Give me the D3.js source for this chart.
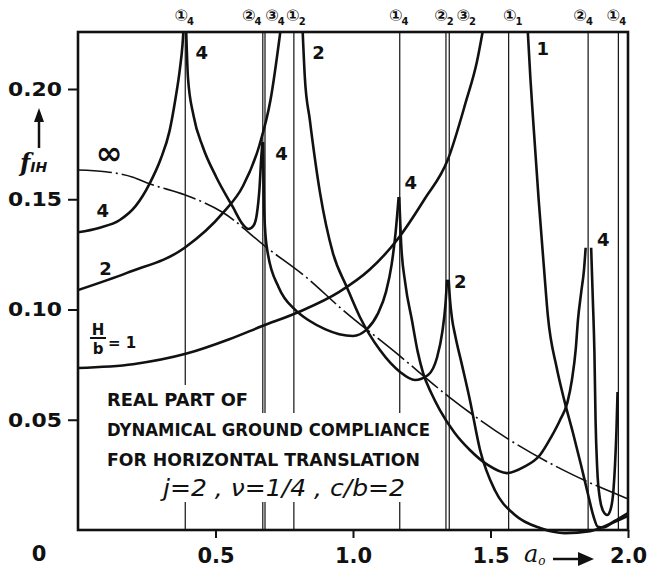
<!DOCTYPE html>
<html><head><meta charset="utf-8">
<script src="https://cdn.jsdelivr.net/npm/d3@7"></script>
<style>
body{margin:0;background:#fff;}
svg{display:block;}
text{fill:#111;}
</style></head>
<body>
<svg id="chart" width="651" height="574"></svg>
<script>
// ---------- DATA ----------
const xTicks = [0.5, 1.0, 1.5, 2.0];
const xTickLabels = ["0.5", "1.0", "1.5", "2.0"];
const yTicks = [0.05, 0.10, 0.15, 0.20];
const yTickLabels = ["0.05", "0.10", "0.15", "0.20"];

// resonance frequencies (vertical lines) and their top labels
const resonances = [0.39, 0.672, 0.680, 0.785, 1.17, 1.338, 1.35, 1.566, 1.855, 1.965];
const resonanceMain = ["①", "②", "③", "①", "①", "②", "③", "①", "②", "①"];
const resonanceSub  = ["4", "4", "4", "2", "4", "2", "2", "1", "4", "4"];

// H/b = infinity (half space), dash-dot
const curveInf = [[0,0.1633],[0.1,0.1625],[0.2,0.1600],[0.26,0.157],[0.388,0.152],[0.527,0.144],[0.687,0.128],[0.836,0.114],[0.952,0.101],[1.16,0.080],[1.35,0.0603],[1.57,0.0408],[1.80,0.025],[2.0,0.0141]];

// H/b = 1
const curve1a = [[0,0.0735],[0.2,0.0752],[0.395,0.080],[0.55,0.0865],[0.67,0.0925],[0.805,0.099],[0.95,0.108],[1.06,0.118],[1.16,0.1315],[1.26,0.150],[1.345,0.168],[1.41,0.194],[1.45,0.212],[1.48,0.232]];
const curve1b = [[1.633,0.232],[1.645,0.205],[1.655,0.186],[1.675,0.150],[1.695,0.118],[1.709,0.0966],[1.74,0.074],[1.77,0.058],[1.80,0.044],[1.83,0.029],[1.855,0.016],[1.875,0.006],[1.89,0.0015],[1.91,0.0012],[1.95,0.004],[2.0,0.0077]];

// H/b = 2
const curve2a = [[0,0.1088],[0.178,0.1166],[0.388,0.128],[0.527,0.1438],[0.6,0.156],[0.66,0.1746],[0.70,0.195],[0.742,0.232]];
const curve2b = [[0.815,0.232],[0.825,0.205],[0.843,0.186],[0.88,0.153],[0.927,0.1256],[0.978,0.110],[1.025,0.0966],[1.098,0.0816],[1.171,0.0717],[1.225,0.068],[1.273,0.0703],[1.305,0.078],[1.325,0.090],[1.336,0.102],[1.342,0.1135]];
const curve2c = [[1.348,0.1135],[1.353,0.104],[1.360,0.096],[1.372,0.088],[1.396,0.075],[1.425,0.059],[1.462,0.0363],[1.516,0.018],[1.589,0.0068],[1.68,0.0009],[1.771,-0.0014],[1.862,-0.0005],[1.934,0.0027],[2.0,0.0064]];

// H/b = 4
const curve4a = [[0,0.135],[0.076,0.137],[0.152,0.1406],[0.21,0.147],[0.26,0.157],[0.30,0.168],[0.333,0.181],[0.355,0.196],[0.37,0.2086],[0.38,0.220],[0.386,0.232]];
const curve4b = [[0.392,0.232],[0.40,0.205],[0.42,0.188],[0.454,0.1737],[0.503,0.160],[0.563,0.1465],[0.60,0.1385],[0.62,0.1365],[0.638,0.138],[0.65,0.143],[0.66,0.155],[0.667,0.170],[0.671,0.176]];
const curve4c = [[0.673,0.176],[0.676,0.150],[0.68,0.137],[0.69,0.1256],[0.73,0.110],[0.79,0.0998],[0.84,0.095],[0.9,0.091],[0.95,0.0888],[1.0,0.088],[1.05,0.091],[1.09,0.098],[1.12,0.108],[1.14,0.12],[1.155,0.135],[1.166,0.151]];
const curve4d = [[1.168,0.151],[1.175,0.13],[1.19,0.112],[1.2145,0.095],[1.235,0.081],[1.255,0.0712],[1.285,0.062],[1.316,0.0544],[1.37,0.044],[1.425,0.0363],[1.49,0.0295],[1.56,0.0258],[1.62,0.0285],[1.68,0.034],[1.72,0.042],[1.753,0.0499],[1.78,0.058],[1.796,0.068],[1.81,0.082],[1.818,0.0952],[1.83,0.108],[1.84,0.118],[1.846,0.128]];
const curve4e = [[1.866,0.128],[1.872,0.105],[1.878,0.08],[1.882,0.05],[1.888,0.028],[1.898,0.014],[1.91,0.0085],[1.924,0.0068],[1.937,0.0095],[1.947,0.018],[1.953,0.03],[1.958,0.045],[1.962,0.0626]];

// curve labels: [a, f, text]
const curveLabels = [
  [0.113, 0.170, "∞"], [0.09, 0.144, "4"], [0.10, 0.118, "2"],
  [0.45, 0.216, "4"], [0.74, 0.170, "4"], [0.875, 0.216, "2"],
  [1.21, 0.157, "4"], [1.39, 0.112, "2"], [1.69, 0.2177, "1"], [1.91, 0.131, "4"]
];

// ---------- DRAW ----------
const svg = d3.select("#chart");
const L = 78, R = 628, T = 32, B = 530;
const x = d3.scaleLinear().domain([0, 2]).range([L, R]);
const y = d3.scaleLinear().domain([0, (B - T) / 2205]).range([B, T]);

svg.append("defs").append("clipPath").attr("id", "clip")
  .append("rect").attr("x", L).attr("y", T).attr("width", R - L).attr("height", B - T + 8);

const font = "'DejaVu Sans', 'Noto Sans', sans-serif";

// vertical resonance lines (with gap behind the text block)
const gapTop = [385, 413, 413, 413, 413, null, null, null, null, null];
resonances.forEach((a, i) => {
  const px = x(a);
  if (gapTop[i] !== null) {
    svg.append("line").attr("x1", px).attr("x2", px).attr("y1", T).attr("y2", gapTop[i])
      .attr("stroke", "#111").attr("stroke-width", 1.2);
    svg.append("line").attr("x1", px).attr("x2", px).attr("y1", 502).attr("y2", B)
      .attr("stroke", "#111").attr("stroke-width", 1.2);
  } else {
    svg.append("line").attr("x1", px).attr("x2", px).attr("y1", T).attr("y2", B)
      .attr("stroke", "#111").attr("stroke-width", 1.2);
  }
});

// top labels
const topDx = [-1, -11, 10, 2, -1, -2, 17, 4, -5, -2];
resonances.forEach((a, i) => {
  const t = svg.append("text").attr("x", x(a) + topDx[i]).attr("y", 21)
    .attr("text-anchor", "middle").style("font-family", "'DejaVu Sans', 'Noto Sans CJK JP', sans-serif")
    .style("font-size", "16px").style("font-weight", "bold");
  t.append("tspan").text(resonanceMain[i]);
  t.append("tspan").attr("dy", 4).attr("dx", -1).style("font-size", "10px").text(resonanceSub[i]);
});

const line = d3.line().x(d => x(d[0])).y(d => y(d[1])).curve(d3.curveMonotoneX);
const g = svg.append("g").attr("clip-path", "url(#clip)");

g.append("path").datum(curveInf).attr("d", line).attr("fill", "none")
  .attr("stroke", "#111").attr("stroke-width", 1.6).attr("stroke-dasharray", "34,4,2,4");

[curve1a, curve1b, curve2a, curve2b, curve2c, curve4a, curve4b, curve4c, curve4d, curve4e].forEach(c => {
  g.append("path").datum(c).attr("d", line).attr("fill", "none")
    .attr("stroke", "#111").attr("stroke-width", 2.6).attr("stroke-linejoin", "round");
});

// frame
svg.append("rect").attr("x", L).attr("y", T).attr("width", R - L).attr("height", B - T)
  .attr("fill", "none").attr("stroke", "#111").attr("stroke-width", 2.6);

// axes
const xAxis = d3.axisBottom(x).tickValues(xTicks).tickFormat((d, i) => xTickLabels[i]).tickSize(8).tickPadding(10);
const gx = svg.append("g").attr("transform", `translate(0,${B})`).call(xAxis);
gx.select(".domain").remove();
gx.selectAll(".tick line").attr("stroke", "#111").attr("stroke-width", 2);
gx.selectAll(".tick text").style("font-family", font).style("font-size", "21px").style("font-weight", "bold").attr("fill", "#111");

const yAxis = d3.axisLeft(y).tickValues(yTicks).tickFormat((d, i) => yTickLabels[i]).tickSize(10).tickPadding(6);
const gy = svg.append("g").attr("transform", `translate(${L},0)`).call(yAxis);
gy.select(".domain").remove();
gy.selectAll(".tick line").attr("stroke", "#111").attr("stroke-width", 2);
gy.selectAll(".tick text").style("font-family", font).style("font-size", "20px").style("font-weight", "bold")
  .attr("textLength", 54).attr("lengthAdjust", "spacingAndGlyphs").attr("fill", "#111");

svg.append("text").attr("x", 39).attr("y", 561).attr("text-anchor", "middle")
  .style("font-family", font).style("font-size", "21px").style("font-weight", "bold").text("0");

// y axis title with arrow
svg.append("line").attr("x1", 39).attr("x2", 39).attr("y1", 148).attr("y2", 118).attr("stroke", "#111").attr("stroke-width", 2.5);
svg.append("path").attr("d", "M39,108 L34,122 L44,122 Z").attr("fill", "#111");
const fy = svg.append("text").attr("x", 20).attr("y", 171).style("font-family", "'DejaVu Serif', serif").style("font-style", "italic").style("font-weight", "bold").style("font-size", "24px");
fy.append("tspan").text("f");
fy.append("tspan").attr("dy", 1).style("font-size", "14px").style("font-family", font).style("font-style", "italic").text("IH");

// x axis title with arrow
const ax = svg.append("text").attr("x", 524).attr("y", 562).style("font-family", "'DejaVu Serif', serif").style("font-style", "italic").style("font-size", "24px");
ax.append("tspan").text("a");
ax.append("tspan").attr("dy", 3).style("font-size", "12px").text("o");
svg.append("line").attr("x1", 553).attr("x2", 580).attr("y1", 559).attr("y2", 559).attr("stroke", "#111").attr("stroke-width", 2.5);
svg.append("path").attr("d", "M594,559 L578,552 L578,566 Z").attr("fill", "#111");

// curve labels
curveLabels.forEach(d => {
  svg.append("text").attr("x", x(d[0])).attr("y", y(d[1])).attr("text-anchor", "middle")
    .attr("dominant-baseline", "middle")
    .style("font-family", font).style("font-weight", "bold")
    .style("font-size", d[2] === "∞" ? "32px" : "18px").text(d[2]);
});

// H/b = 1 label
svg.append("text").attr("x", 98).attr("y", 335).attr("text-anchor", "middle").style("font-family", font).style("font-weight", "bold").style("font-size", "15px").text("H");
svg.append("line").attr("x1", 90).attr("x2", 106).attr("y1", 338).attr("y2", 338).attr("stroke", "#111").attr("stroke-width", 2);
svg.append("text").attr("x", 98).attr("y", 354).attr("text-anchor", "middle").style("font-family", font).style("font-weight", "bold").style("font-size", "15px").text("b");
svg.append("text").attr("x", 108).attr("y", 348).style("font-family", font).style("font-weight", "bold").style("font-size", "15px").text("= 1");

// description block
const desc = [["REAL PART OF", 107, 406, 141], ["DYNAMICAL GROUND COMPLIANCE", 107, 436, 323], ["FOR HORIZONTAL TRANSLATION", 107, 466, 313]];
desc.forEach(d => {
  svg.append("text").attr("x", d[1]).attr("y", d[2]).attr("textLength", d[3]).attr("lengthAdjust", "spacingAndGlyphs")
    .style("font-family", font).style("font-weight", "bold").style("font-size", "17px").text(d[0]);
});
svg.append("text").attr("x", 163).attr("y", 496).attr("textLength", 242).attr("lengthAdjust", "spacingAndGlyphs")
  .style("font-family", font).style("font-style", "italic").style("font-size", "23px").text("j=2 , ν=1/4 , c/b=2");
</script>
</body></html>
